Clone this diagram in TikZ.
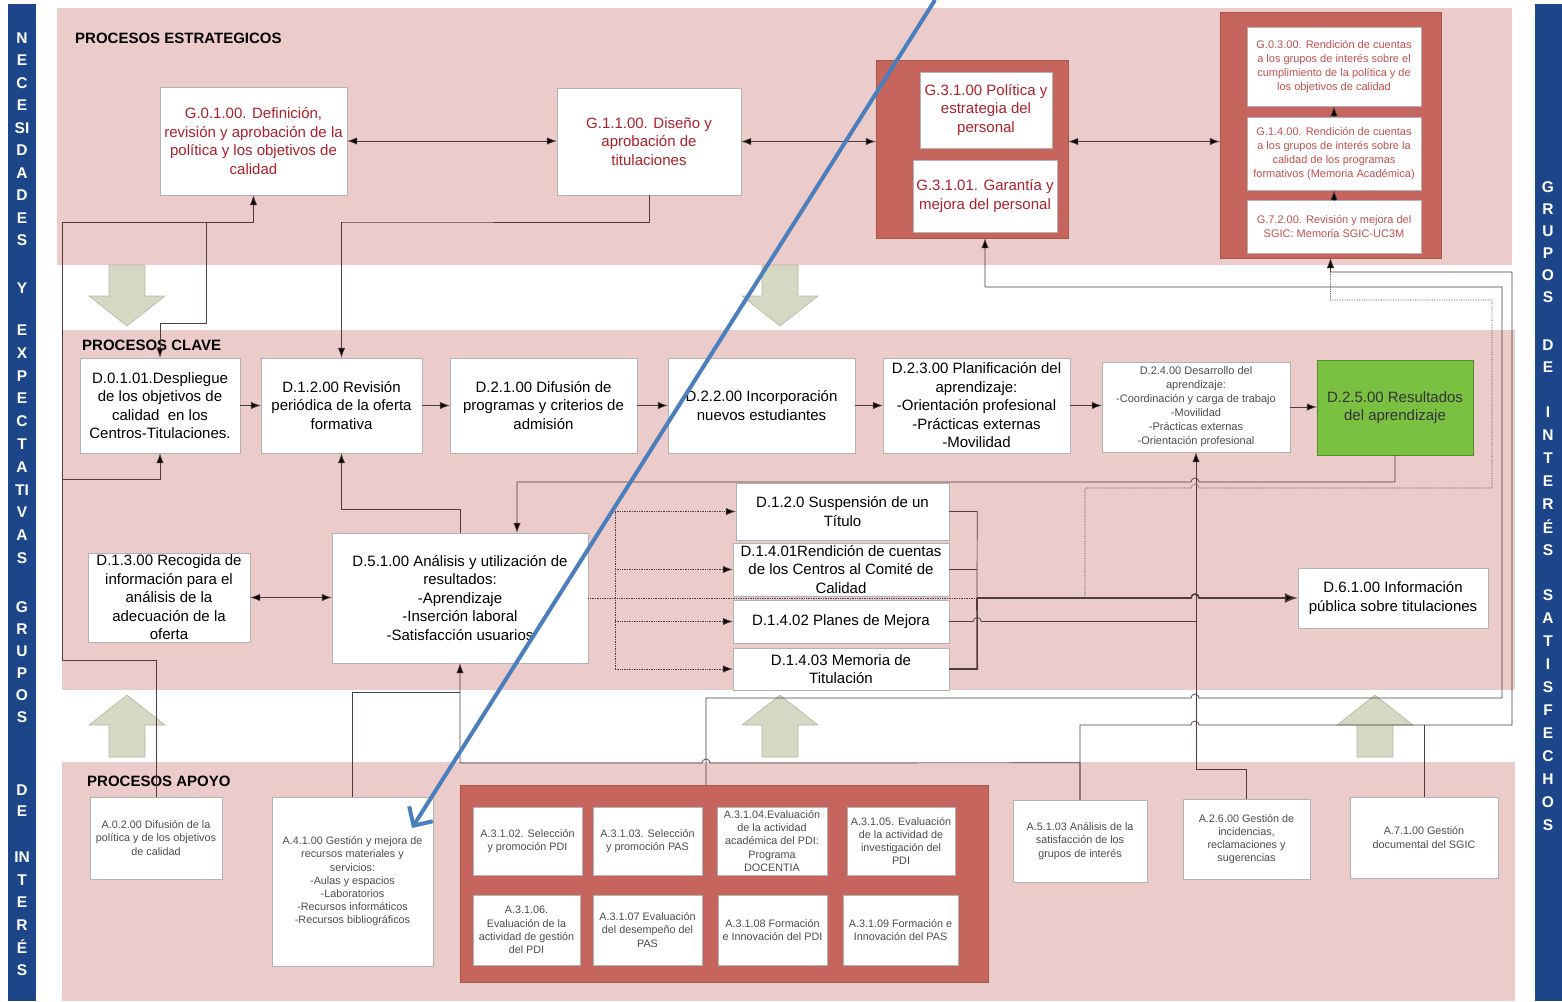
\documentclass[tikz,border=0pt]{standalone}
\usepackage{fontspec}
\setmainfont{Liberation Sans}
\usetikzlibrary{arrows.meta,calc,positioning}

\definecolor{rosa}{RGB}{236,203,203}
\definecolor{rojocaja}{RGB}{198,100,94}
\definecolor{verde}{RGB}{122,193,66}
\definecolor{azulbarra}{RGB}{29,70,138}
\definecolor{grisflecha}{RGB}{213,217,195}
\definecolor{rojotexto}{RGB}{172,32,44}
\definecolor{rojosuave}{RGB}{192,80,80}
\definecolor{linea}{RGB}{80,60,60}
\definecolor{azulflecha}{RGB}{74,126,188}

\begin{document}
\begin{tikzpicture}[x=1pt,y=-1pt,
	caja/.style={draw=gray!60,fill=white,align=center,inner sep=1pt,font=\fontsize{15}{18.5}\selectfont},
	cajag/.style={caja,text=rojotexto},
	cajachica/.style={caja,text=black!70,font=\fontsize{10.8}{13.2}\selectfont},
	cajar/.style={caja,text=rojosuave,font=\fontsize{11}{14}\selectfont},
	contenedor/.style={draw=rojocaja!85!black,fill=rojocaja},
	flecha/.style={-{Latex[length=10pt,width=7.5pt,fill=black]}},
	flechag/.style={-{Latex[length=13pt,width=10pt,fill=black]}},
	dflecha/.style={{Latex[length=10pt,width=7.5pt,fill=black]}-{Latex[length=10pt,width=7.5pt,fill=black]}},
	conector/.style={draw=linea,line width=0.7pt},
	punteado/.style={conector,densely dotted},
	grueso/.style={conector,line width=1.6pt},
	titulo/.style={anchor=west,inner sep=0pt,font=\bfseries\fontsize{15}{17}\selectfont},
	letra/.style={text=white,inner sep=0pt,font=\bfseries\fontsize{15.5}{15.5}\selectfont},
	gorda/.style={fill=grisflecha,draw=grisflecha!85!black,line width=0.6pt}]
	\useasboundingbox (0,0) rectangle (1562,1001);

	\fill[rosa] (57,8) rectangle (1512,265);
	\fill[rosa] (62,330) rectangle (1515,690);
	\fill[rosa] (62,762) rectangle (1515,1001);
	\fill[azulbarra] (8,4) rectangle (36,1001);
	\fill[azulbarra] (1535,4) rectangle (1562,1001);

	\foreach \y/\l [count=\i] in {38/N,60/E,83/C,105/E,128/SI,150/D,173/A,195/D,218/E,240/S,288/Y,
		330/E,353/X,376/P,398/E,421/C,444/T,467/A,490/TI,512/V,535/A,558/S,
		607/G,629/R,651/U,673/P,695/O,717/S,790/D,811/E,857/IN,880/T,902/E,925/R,947/É,970/S}
		\node[letra] (izq\i) at (22,\y) {\l};
	\foreach \y/\l [count=\i] in {187/G,209/R,231/U,253/P,275/O,297/S,345/D,367/E,
		412/I,435/N,458/T,481/E,504/R,527/É,550/S,
		595/S,618/A,641/T,664/I,687/S,710/F,733/E,756/C,779/H,802/O,825/S}
		\node[letra] (der\i) at (1548,\y) {\l};

	\foreach \cx in {127,780}
		\filldraw[gorda] (\cx-18,265) -- (\cx+18,265) -- (\cx+18,296) -- (\cx+38,296) -- (\cx,326) -- (\cx-38,296) -- (\cx-18,296) -- cycle;
	\foreach \cx in {127,780,1375}
		\filldraw[gorda] (\cx-18,757) -- (\cx+18,757) -- (\cx+18,725) -- (\cx+38,725) -- (\cx,695) -- (\cx-38,725) -- (\cx-18,725) -- cycle;

	\node[titulo] (tit1) at (75,38) {PROCESOS ESTRATEGICOS};
	\node[titulo] (tit2) at (82,345) {PROCESOS CLAVE};
	\node[titulo] (tit3) at (87,781) {PROCESOS APOYO};

	\node[cajag,minimum width=187pt,minimum height=108pt] (G01) at (253.5,141) {G.0.1.00. Definición,\\revisión y aprobación de la\\política y los objetivos de\\calidad};
	\node[cajag,minimum width=184pt,minimum height=107pt] (G11) at (649,141.5) {G.1.1.00. Diseño y\\aprobación de\\titulaciones};
	\node[contenedor,minimum width=192pt,minimum height=178pt] (G3) at (972,149) {};
	\node[cajag,minimum width=132pt,minimum height=76pt] (G300) at (986,110) {G.3.1.00 Política y\\estrategia del\\personal};
	\node[cajag,minimum width=144pt,minimum height=72pt] (G301) at (985,196) {G.3.1.01. Garantía y\\mejora del personal};
	\node[contenedor,minimum width=221pt,minimum height=246pt] (RC) at (1330.5,135) {};
	\node[cajar,minimum width=174pt,minimum height=79pt] (G030) at (1334,66.5) {G.0.3.00. Rendición de cuentas\\a los grupos de interés sobre el\\cumplimiento de la política y de\\los objetivos de calidad};
	\node[cajar,minimum width=174pt,minimum height=73pt] (G140) at (1334,153.5) {G.1.4.00. Rendición de cuentas\\a los grupos de interés sobre la\\calidad de los programas\\formativos (Memoria Académica)};
	\node[cajar,minimum width=174pt,minimum height=53pt] (G720) at (1334,226.5) {G.7.2.00. Revisión y mejora del\\SGIC: Memoria SGIC-UC3M};

	\node[caja,minimum width=160pt,minimum height=95pt] (D0101) at (160,405.5) {D.0.1.01.Despliegue\\de los objetivos de\\calidad \ en los\\Centros-Titulaciones.};
	\node[caja,minimum width=161pt,minimum height=95pt] (D1200) at (341.5,405.5) {D.1.2.00 Revisión\\periódica de la oferta\\formativa};
	\node[caja,minimum width=187pt,minimum height=95pt] (D2100) at (543.5,405.5) {D.2.1.00 Difusión de\\programas y criterios de\\admisión};
	\node[caja,minimum width=187pt,minimum height=95pt] (D2200) at (761.5,405.5) {D.2.2.00 Incorporación\\nuevos estudiantes};
	\node[caja,minimum width=187pt,minimum height=95pt] (D2300) at (976.5,405.5) {D.2.3.00 Planificación del\\aprendizaje:\\-Orientación profesional\\-Prácticas externas\\-Movilidad};
	\node[cajachica,font=\fontsize{11}{14}\selectfont,minimum width=188pt,minimum height=90pt] (D2400) at (1196,407) {D.2.4.00 Desarrollo del\\aprendizaje:\\-Coordinación y carga de trabajo\\-Movilidad\\-Prácticas externas\\-Orientación profesional};
	\node[caja,fill=verde,draw=verde!70!black,text=black!80,minimum width=156pt,minimum height=95pt] (D2500) at (1395,407.5) {D.2.5.00 Resultados\\del aprendizaje};

	\node[caja,minimum width=162pt,minimum height=89pt] (D1300) at (169,597.5) {D.1.3.00 Recogida de\\información para el\\análisis de la\\adecuación de la\\oferta};
	\node[caja,minimum width=256pt,minimum height=130pt] (D5100) at (460,598) {D.5.1.00 Análisis y utilización de\\resultados:\\-Aprendizaje\\-Inserción laboral\\-Satisfacción usuarios};
	\node[caja,minimum width=213pt,minimum height=57pt] (D120) at (842.5,511.5) {D.1.2.0 Suspensión de un\\Título};
	\node[caja,minimum width=216pt,minimum height=53pt] (D1401) at (841,569.5) {D.1.4.01Rendición de cuentas\\de los Centros al Comité de\\Calidad};
	\node[caja,minimum width=216pt,minimum height=43pt] (D1402) at (841,621.5) {D.1.4.02 Planes de Mejora};
	\node[caja,minimum width=216pt,minimum height=42pt] (D1403) at (841,669) {D.1.4.03 Memoria de\\Titulación};
	\node[caja,minimum width=190pt,minimum height=60pt] (D6100) at (1393,598) {D.6.1.00 Información\\pública sobre titulaciones};

	\node[cajachica,minimum width=132pt,minimum height=82pt] (A0200) at (156,838) {A.0.2.00 Difusión de la\\política y de los objetivos\\de calidad};
	\node[cajachica,minimum width=161pt,minimum height=169pt] (A4100) at (352.5,881.5) {A.4.1.00 Gestión y mejora de\\recursos materiales y\\servicios:\\-Aulas y espacios\\-Laboratorios\\-Recursos informáticos\\-Recursos bibliográficos};
	\node[contenedor,minimum width=528pt,minimum height=197pt] (RA) at (724,883.5) {};
	\node[cajachica,minimum width=109pt,minimum height=68pt] (A3102) at (527.5,841) {A.3.1.02. Selección\\y promoción PDI};
	\node[cajachica,minimum width=109pt,minimum height=68pt] (A3103) at (647.5,841) {A.3.1.03. Selección\\y promoción PAS};
	\node[cajachica,minimum width=110pt,minimum height=68pt] (A3104) at (772,841) {A.3.1.04.Evaluación\\de la actividad\\académica del PDI:\\Programa\\DOCENTIA};
	\node[cajachica,minimum width=108pt,minimum height=68pt] (A3105) at (901,841) {A.3.1.05. Evaluación\\de la actividad de\\investigación del\\PDI};
	\node[cajachica,minimum width=107pt,minimum height=70pt] (A3106) at (526.5,930) {A.3.1.06.\\Evaluación de la\\actividad de gestión\\del PDI};
	\node[cajachica,minimum width=109pt,minimum height=70pt] (A3107) at (647.5,930) {A.3.1.07 Evaluación\\del desempeño del\\PAS};
	\node[cajachica,minimum width=109pt,minimum height=70pt] (A3108) at (772.5,930) {A.3.1.08 Formación\\e Innovación del PDI};
	\node[cajachica,minimum width=115pt,minimum height=70pt] (A3109) at (900.5,930) {A.3.1.09 Formación e\\Innovación del PAS};
	\node[cajachica,minimum width=134pt,minimum height=82pt] (A5103) at (1080,841) {A.5.1.03 Análisis de la\\satisfacción de los\\grupos de interés};
	\node[cajachica,minimum width=127pt,minimum height=80pt] (A2600) at (1246.5,839) {A.2.6.00 Gestión de\\incidencias,\\reclamaciones y\\sugerencias};
	\node[cajachica,minimum width=148pt,minimum height=81pt] (A7100) at (1424,837.5) {A.7.1.00 Gestión\\documental del SGIC};

	\draw[conector,dflecha] (G01.east) -- (G01.east -| G11.west);
	\draw[conector,dflecha] (G11.east) -- (G11.east -| G3.west);
	\draw[conector,dflecha] (G3.east |- G11.east) -- (RC.west |- G11.east);
	\draw[conector,flecha] (G720.north) -- (G140.south);
	\draw[conector,flecha] (G140.north) -- (G030.south);

	\coordinate (c1) at (62,222);
	\coordinate (c2) at (62,479);
	\coordinate (c3) at (62,660);
	\coordinate (c4) at (206,222);
	\coordinate (c5) at (341,222);
	\draw[conector,flecha] (A0200.north) |- (c3) -- (c1) -| (G01.south);
	\draw[conector,flecha] (c2) -| (D0101.south);
	\draw[conector,flecha] (c4) -- ++(0,101) -| (D0101.north);
	\draw[conector,flecha] (G11.south) |- (c5) -| (D1200.north);

	\foreach \a/\b in {D0101/D1200,D1200/D2100,D2100/D2200,D2200/D2300,D2300/D2400,D2400/D2500}
		\draw[conector,flecha] (\a.east) -- (\a.east -| \b.west);
	\draw[conector,dflecha] (D1300.east) -- (D1300.east -| D5100.west);
	\draw[conector,flecha] (D5100.north) |- ++(-118,-23) -| (D1200.south);
	\draw[conector,flecha] (D2500.south) |- (1199,482) arc[start angle=0,end angle=-180,radius=4] -| ([xshift=57pt]D5100.north);

	\coordinate (p0) at (615,598);
	\coordinate (b3) at (977,598);
	\draw[punteado] (D5100.east) -- (p0) -- (b3);
	\draw[punteado] (p0 |- D120.west) -- (p0 |- D1403.west);
	\foreach \n in {D120,D1401,D1402,D1403}
		\draw[punteado,flecha] (p0 |- \n.west) -- (\n.west);
	\draw[conector] (D120.east) -- ++(28,0) -- (b3);
	\draw[conector] (D1401.east) -- ++(28,0);
	\draw[grueso] (D1403.east) -- ++(28,0) -- (b3);
	\draw[grueso,flechag] (b3) -- (1191,598) arc[start angle=180,end angle=360,radius=4] -- (D6100.west);
	\draw[conector] (D1402.east) -- ++(24,0) arc[start angle=180,end angle=360,radius=4] -- (D1402.east -| D2400.south);

	\coordinate (q1) at (1085,598);
	\coordinate (q2) at (1492,300);
	\draw[punteado,flecha] (q1) |- (1191,488) arc[start angle=180,end angle=360,radius=4] -| (q2) -| (RC.south);

	\draw[conector,flecha] (A2600.north) -- ++(0,-29) -| (D2400.south);
	\coordinate (r1) at (1502,287);
	\coordinate (r2) at (1512,272);
	\draw[conector,flecha] ([xshift=-18pt]RA.north) |- (1191,698) arc[start angle=180,end angle=360,radius=4] -| (r1) -| (G301.south |- G3.south);
	\draw[conector,flecha] (A5103.north) |- (1191,725) arc[start angle=180,end angle=360,radius=4] -| (r2) -| (RC.south);
	\draw[conector] (A7100.north) -- (A7100.north |- 0,725);
	\draw[conector,flecha] (A5103.north) -- ++(0,-37) -- (710,763) arc[start angle=0,end angle=-180,radius=4] -| (D5100.south);
	\draw[conector] (A4100.north) |- (D5100.south |- 0,692);

	\coordinate (bi) at (935,0);
	\coordinate (bf) at (412,828);
	\draw[azulflecha,line width=4pt,-{Straight Barb[length=14pt,width=28pt]}] (bi) -- (bf);
\end{tikzpicture}
\end{document}
